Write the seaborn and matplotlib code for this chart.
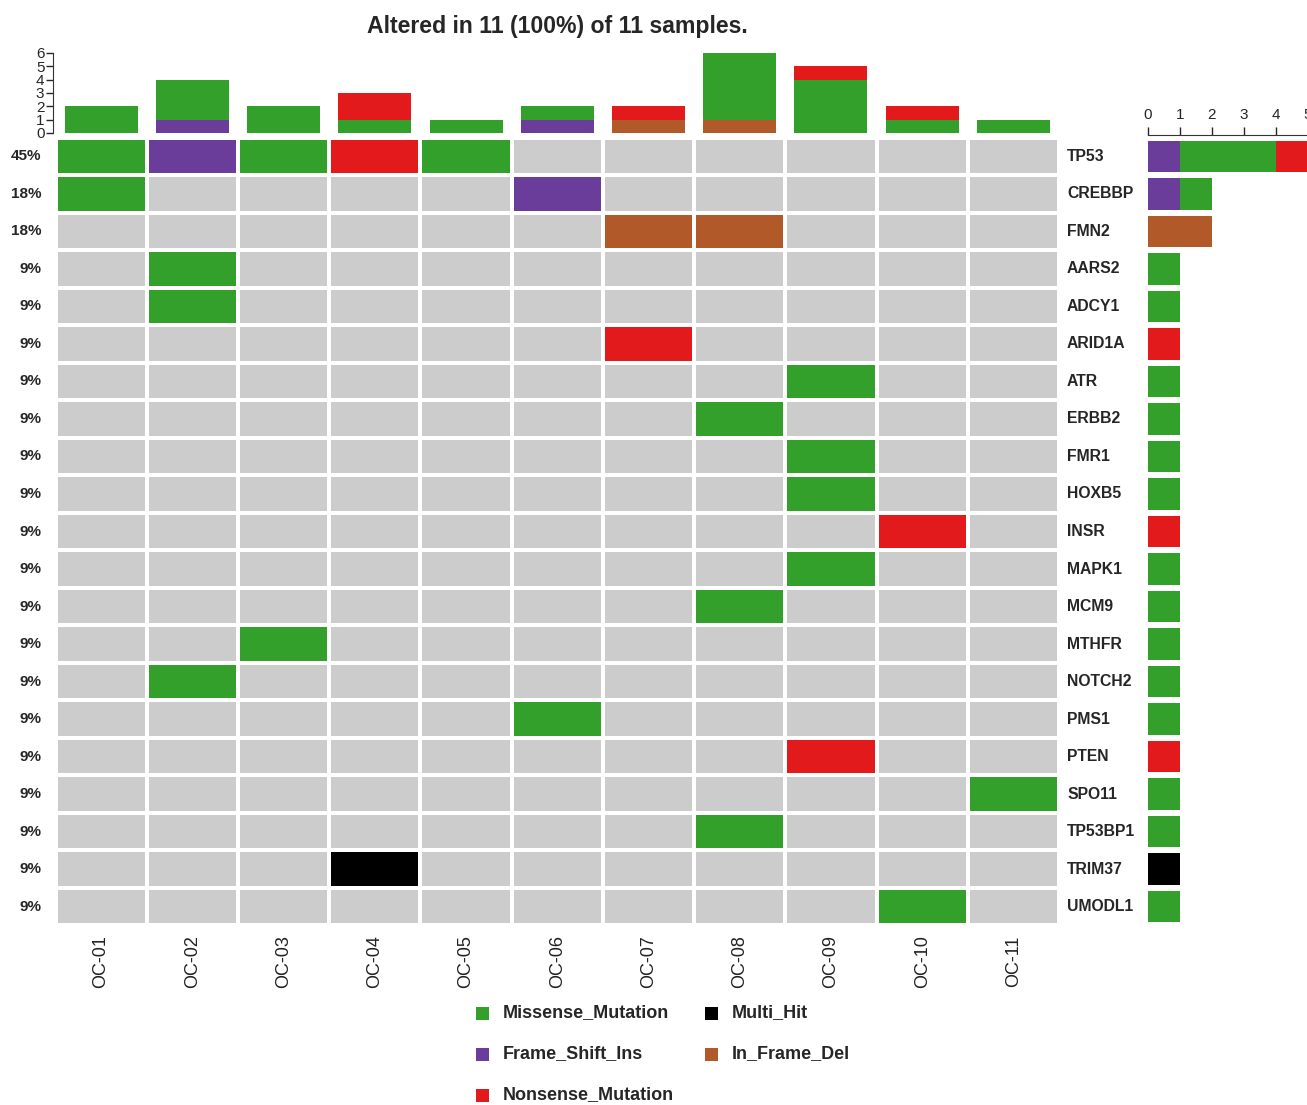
import numpy as np
import pandas as pd
import matplotlib
matplotlib.use("Agg")
import matplotlib.pyplot as plt
from matplotlib.colors import ListedColormap
from matplotlib.patches import Rectangle
import matplotlib.transforms as mtransforms
import seaborn as sns

sns.set_style("white")
plt.rcParams["font.family"] = ["Liberation Sans", "DejaVu Sans"]

# ---- data -------------------------------------------------------------
samples = ["OC-01", "OC-02", "OC-03", "OC-04", "OC-05", "OC-06",
           "OC-07", "OC-08", "OC-09", "OC-10", "OC-11"]
genes = ["TP53", "CREBBP", "FMN2", "AARS2", "ADCY1", "ARID1A", "ATR",
         "ERBB2", "FMR1", "HOXB5", "INSR", "MAPK1", "MCM9", "MTHFR",
         "NOTCH2", "PMS1", "PTEN", "SPO11", "TP53BP1", "TRIM37", "UMODL1"]

variant_types = ["Missense_Mutation", "Frame_Shift_Ins", "Nonsense_Mutation",
                 "Multi_Hit", "In_Frame_Del"]
variant_colors = {"Missense_Mutation": "#33A02C",
                  "Frame_Shift_Ins": "#6A3D9A",
                  "Nonsense_Mutation": "#E31A1C",
                  "Multi_Hit": "#000000",
                  "In_Frame_Del": "#B15928"}
no_alteration_color = "#CCCCCC"

# (gene, sample, variant classification)
alterations = [
    ("TP53", "OC-01", "Missense_Mutation"),
    ("TP53", "OC-02", "Frame_Shift_Ins"),
    ("TP53", "OC-03", "Missense_Mutation"),
    ("TP53", "OC-04", "Nonsense_Mutation"),
    ("TP53", "OC-05", "Missense_Mutation"),
    ("CREBBP", "OC-01", "Missense_Mutation"),
    ("CREBBP", "OC-06", "Frame_Shift_Ins"),
    ("FMN2", "OC-07", "In_Frame_Del"),
    ("FMN2", "OC-08", "In_Frame_Del"),
    ("AARS2", "OC-02", "Missense_Mutation"),
    ("ADCY1", "OC-02", "Missense_Mutation"),
    ("ARID1A", "OC-07", "Nonsense_Mutation"),
    ("ATR", "OC-09", "Missense_Mutation"),
    ("ERBB2", "OC-08", "Missense_Mutation"),
    ("FMR1", "OC-09", "Missense_Mutation"),
    ("HOXB5", "OC-09", "Missense_Mutation"),
    ("INSR", "OC-10", "Nonsense_Mutation"),
    ("MAPK1", "OC-09", "Missense_Mutation"),
    ("MCM9", "OC-08", "Missense_Mutation"),
    ("MTHFR", "OC-03", "Missense_Mutation"),
    ("NOTCH2", "OC-02", "Missense_Mutation"),
    ("PMS1", "OC-06", "Missense_Mutation"),
    ("PTEN", "OC-09", "Nonsense_Mutation"),
    ("SPO11", "OC-11", "Missense_Mutation"),
    ("TP53BP1", "OC-08", "Missense_Mutation"),
    ("TRIM37", "OC-04", "Multi_Hit"),
    ("UMODL1", "OC-10", "Missense_Mutation"),
]

# per-sample mutation burden (top bar chart)
tmb_missense = [2, 3, 2, 1, 1, 1, 0, 5, 4, 1, 1]
tmb_frame_shift_ins = [0, 1, 0, 0, 0, 1, 0, 0, 0, 0, 0]
tmb_nonsense = [0, 0, 0, 2, 0, 0, 1, 0, 1, 1, 0]
tmb_in_frame_del = [0, 0, 0, 0, 0, 0, 1, 1, 0, 0, 0]

# ---- matrices ---------------------------------------------------------
codes = {v: i + 1 for i, v in enumerate(variant_types)}
mat = pd.DataFrame(0, index=genes, columns=samples)
for g, s, v in alterations:
    mat.loc[g, s] = codes[v]

counts = pd.DataFrame(0, index=genes, columns=variant_types)
for g, s, v in alterations:
    counts.loc[g, v] += 1
n_samples = len(samples)
pct_labels = [f"{round(100 * (mat.loc[g] > 0).sum() / n_samples)}%" for g in genes]

cmap = ListedColormap([no_alteration_color] + [variant_colors[v] for v in variant_types])

# ---- figure -----------------------------------------------------------
W, H = 1307, 1105
fig = plt.figure(figsize=(W / 100, H / 100), dpi=100)

def fx(px):
    return px / W

def fy(px):
    return 1 - px / H

grid_left, grid_right = 55.5, 1059
grid_top, grid_bot = 137.5, 925.5
ax = fig.add_axes([fx(grid_left), fy(grid_bot), fx(grid_right - grid_left),
                   (grid_bot - grid_top) / H])
sns.heatmap(mat, ax=ax, cmap=cmap, vmin=-0.5, vmax=len(variant_types) + 0.5,
            cbar=False, linewidths=2.6, linecolor="white",
            xticklabels=samples, yticklabels=pct_labels)
ax.tick_params(axis="both", length=0)
ax.tick_params(axis="y", pad=10)
ax.tick_params(axis="x", pad=7)
for t in ax.get_yticklabels():
    t.set_fontweight("bold")
    t.set_fontsize(11)
    t.set_rotation(0)
for t in ax.get_xticklabels():
    t.set_rotation(90)
    t.set_fontsize(13)
    t.set_color("#222222")
ax.set_xlabel("")
ax.set_ylabel("")
trans = mtransforms.blended_transform_factory(ax.transAxes, ax.transData)
for i, g in enumerate(genes):
    ax.text(1 + 8 / (grid_right - grid_left), i + 0.5, g, transform=trans,
            ha="left", va="center", fontsize=11.3, fontweight="bold")

# ---- top bar chart (mutations per sample) -----------------------------
axt = fig.add_axes([fx(grid_left), fy(133), fx(grid_right - grid_left), 80 / H])
x = np.arange(n_samples) + 0.5
bottom = np.zeros(n_samples)
for vals, vt in [(tmb_frame_shift_ins, "Frame_Shift_Ins"),
                 (tmb_in_frame_del, "In_Frame_Del"),
                 (tmb_missense, "Missense_Mutation"),
                 (tmb_nonsense, "Nonsense_Mutation")]:
    vals = np.array(vals, dtype=float)
    axt.bar(x, vals, width=0.8, bottom=bottom, color=variant_colors[vt],
            edgecolor="none")
    bottom += vals
axt.set_xlim(0, n_samples)
axt.set_ylim(0, 6)
axt.set_yticks(range(0, 7))
axt.tick_params(axis="y", length=5, width=1, labelsize=11, pad=1, left=True)
axt.set_xticks([])
for sp in ["top", "right", "bottom"]:
    axt.spines[sp].set_visible(False)
axt.spines["left"].set_position(("outward", 2))
axt.spines["left"].set_bounds(0, 6)
axt.spines["left"].set_color("#333333")
axt.patch.set_alpha(0)

# ---- right bar chart (mutations per gene) -----------------------------
axr = fig.add_axes([fx(1148), fy(grid_bot), fx(160), (grid_bot - grid_top) / H])
y = np.arange(len(genes)) + 0.5
left = np.zeros(len(genes))
for vt in ["Frame_Shift_Ins", "In_Frame_Del", "Missense_Mutation",
           "Nonsense_Mutation", "Multi_Hit"]:
    vals = counts[vt].values.astype(float)
    axr.barh(y, vals, height=0.84, left=left, color=variant_colors[vt],
             edgecolor="none")
    left += vals
axr.set_xlim(0, 5)
axr.set_ylim(len(genes), 0)
axr.set_yticks([])
axr.xaxis.tick_top()
axr.set_xticks(range(0, 6))
axr.tick_params(axis="x", length=6, width=1, labelsize=11, pad=3, top=True,
                bottom=False)
for sp in ["right", "bottom", "left"]:
    axr.spines[sp].set_visible(False)
axr.spines["top"].set_position(("outward", 2))
axr.spines["top"].set_color("#333333")
axr.patch.set_alpha(0)

# ---- title ------------------------------------------------------------
fig.text(fx(557), fy(27), "Altered in 11 (100%) of 11 samples.",
         ha="center", va="center", fontsize=16.6, fontweight="bold")

# ---- legend -----------------------------------------------------------
legend_items = [("Missense_Mutation", 476, 1013), ("Frame_Shift_Ins", 476, 1054),
                ("Nonsense_Mutation", 476, 1095), ("Multi_Hit", 705, 1013),
                ("In_Frame_Del", 705, 1054)]
for name, px, py in legend_items:
    fig.add_artist(Rectangle((fx(px), fy(py + 7)), fx(13), 13 / H,
                             transform=fig.transFigure,
                             facecolor=variant_colors[name], edgecolor="none"))
    fig.text(fx(px + 27), fy(py), name, ha="left", va="center",
             fontsize=13, fontweight="bold")

fig.savefig("out.png", dpi=100)
